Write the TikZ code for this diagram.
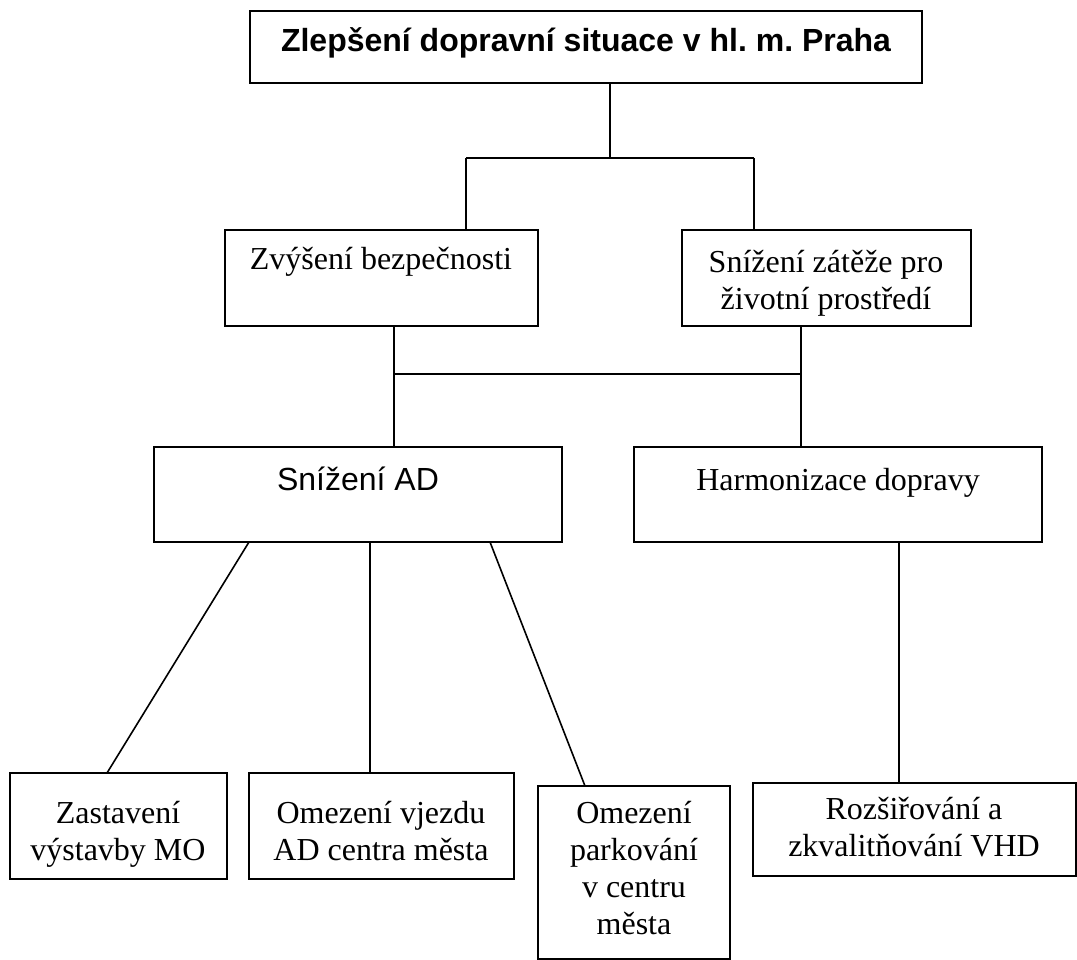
\documentclass[tikz,border=0pt]{standalone}
\usepackage{fontspec}
\setmainfont{Liberation Serif}
\newfontfamily\arialfont{Liberation Sans}
\frenchspacing
\begin{document}
\begin{tikzpicture}[x=1pt,y=-1pt,
  box/.style={draw=black, line width=2.2pt, inner sep=0pt, outer sep=0pt, anchor=north west},
  conn/.style={draw=black, line width=1.6pt},
  txt/.style={inner sep=0pt, align=center, anchor=base, font=\fontsize{32}{37}\selectfont},
  sanstxt/.style={txt, font=\fontsize{32}{37}\selectfont\arialfont},
  boldtxt/.style={txt, font=\fontsize{32}{37}\selectfont\arialfont\bfseries}]
\useasboundingbox (0,0) rectangle (1077,960);
\fill[white] (0,0) rectangle (1077,960);

% boxes
\node[box, minimum width=672pt, minimum height=72pt] (title) at (250,11) {};
\node[box, minimum width=313pt, minimum height=96pt] (zvys) at (225,230) {};
\node[box, minimum width=289pt, minimum height=96pt] (sniz) at (682,230) {};
\node[box, minimum width=408pt, minimum height=95pt] (snad) at (154,447) {};
\node[box, minimum width=408pt, minimum height=95pt] (harm) at (634,447) {};
\node[box, minimum width=217pt, minimum height=106pt] (zast) at (10,773) {};
\node[box, minimum width=265pt, minimum height=106pt] (vjezd) at (249,773) {};
\node[box, minimum width=192pt, minimum height=173pt] (park) at (538,786) {};
\node[box, minimum width=323pt, minimum height=93pt] (vhd) at (753,783) {};

% texts (anchor = baseline of the last line)
\node[boldtxt] (title-t) at (586,52) {Zlepšení dopravní situace v hl. m. Praha};
\node[txt] (zvys-t) at (381,270) {Zvýšení bezpečnosti};
\node[txt] (sniz-t) at (826,309) {Snížení zátěže pro\\životní prostředí};
\node[sanstxt] (snad-t) at (358,490) {Snížení AD};
\node[txt] (harm-t) at (838,490) {Harmonizace dopravy};
\node[txt] (zast-t) at (118,860) {Zastavení\\výstavby MO};
\node[txt] (vjezd-t) at (381,860) {Omezení vjezdu\\AD centra města};
\node[txt] (park-t) at (634,934) {Omezení\\parkování\\v centru\\města};
\node[txt] (vhd-t) at (914,856) {Rozšiřování a\\zkvalitňování VHD};

% junction points
\coordinate (j1) at (610,158);
\coordinate (jl) at (466,158);
\coordinate (jr) at (754,158);
\coordinate (k1) at (394,374);
\coordinate (k2) at (801,374);

% upper tree
\draw[conn] (j1 |- title.south) -- (j1);
\draw[conn] (jl) -- (jr);
\draw[conn] (jl) -- (jl |- zvys.north);
\draw[conn] (jr) -- (jr |- sniz.north);

% middle tree
\draw[conn] (k1 |- zvys.south) -- (k1 |- snad.north);
\draw[conn] (k2 |- sniz.south) -- (k2 |- harm.north);
\draw[conn] (k1) -- (k2);

% lower branches
\draw[conn] ([xshift=95pt]snad.south west) -- ([xshift=97pt]zast.north west);
\draw[conn] ([xshift=216pt]snad.south west) -- ([xshift=121pt]vjezd.north west);
\draw[conn] ([xshift=336pt]snad.south west) -- ([xshift=47pt]park.north west);
\draw[conn] ([xshift=265pt]harm.south west) -- ([xshift=146pt]vhd.north west);
\end{tikzpicture}
\end{document}
